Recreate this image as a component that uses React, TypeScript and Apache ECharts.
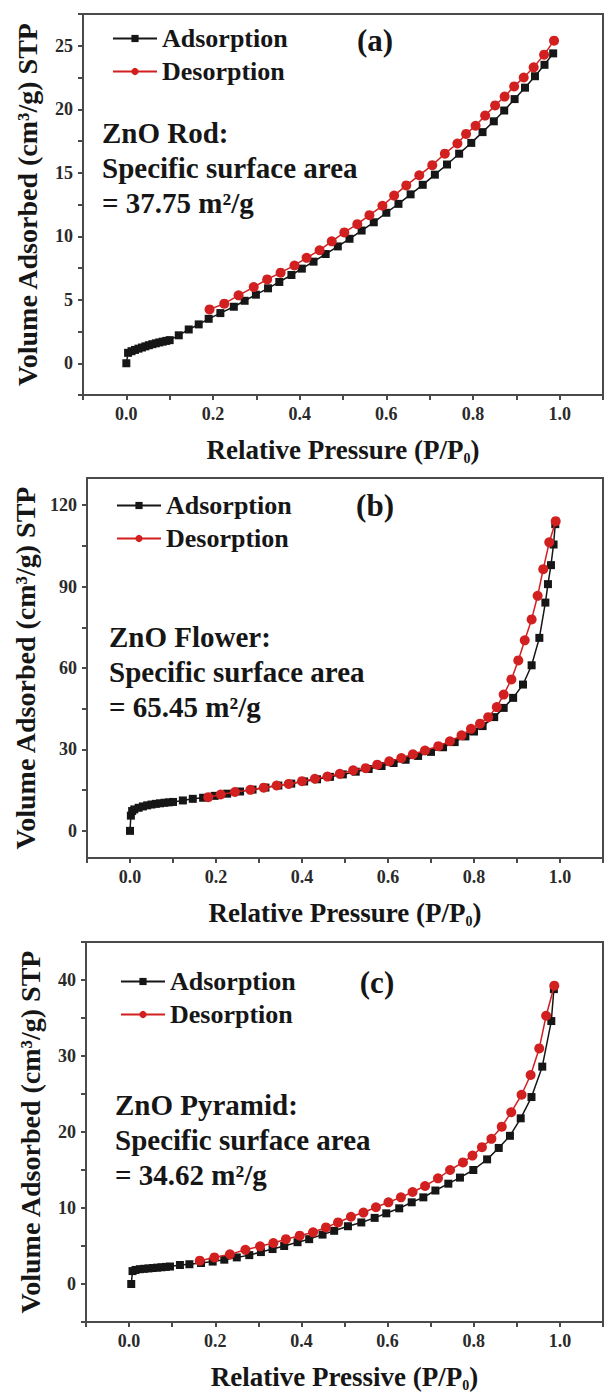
import React, { useEffect, useRef } from "react";
import * as echarts from "echarts";

// ZnO Rod isotherm, [P/P0, volume]
const rodAdsorption: number[][] = [
  [0, 0], [0.004, 0.82], [0.012, 0.95], [0.02, 1.05], [0.028, 1.15], [0.036, 1.24], [0.044, 1.33],
  [0.052, 1.42], [0.06, 1.5], [0.068, 1.57], [0.076, 1.64], [0.084, 1.7], [0.092, 1.76], [0.1, 1.82],
  [0.121, 2.2], [0.144, 2.66], [0.167, 3.06], [0.19, 3.5], [0.217, 3.95], [0.248, 4.45], [0.273, 4.92],
  [0.299, 5.4], [0.327, 5.9], [0.353, 6.4], [0.381, 6.95], [0.405, 7.45], [0.432, 8.0], [0.46, 8.6],
  [0.488, 9.2], [0.515, 9.8], [0.543, 10.45], [0.571, 11.1], [0.6, 11.85], [0.628, 12.55], [0.656, 13.3],
  [0.684, 14.05], [0.712, 14.85], [0.74, 15.65], [0.768, 16.5], [0.796, 17.35], [0.822, 18.2], [0.848, 19.05],
  [0.872, 19.9], [0.896, 20.8], [0.92, 21.7], [0.943, 22.6], [0.965, 23.5], [0.985, 24.4],
];
const rodDesorption: number[][] = [
  [0.192, 4.24], [0.226, 4.69], [0.259, 5.35], [0.294, 6.0], [0.325, 6.6], [0.356, 7.13], [0.388, 7.7],
  [0.416, 8.3], [0.446, 8.9], [0.474, 9.6], [0.503, 10.3], [0.533, 10.95], [0.561, 11.66], [0.591, 12.4],
  [0.618, 13.2], [0.646, 14.0], [0.676, 14.8], [0.706, 15.6], [0.735, 16.5], [0.764, 17.3], [0.784, 18.06],
  [0.806, 18.7], [0.828, 19.5], [0.851, 20.3], [0.873, 21.0], [0.895, 21.8], [0.917, 22.5], [0.94, 23.3],
  [0.964, 24.3], [0.987, 25.4],
];

// ZnO Flower isotherm
const flowerAdsorption: number[][] = [
  [0, 0], [0.002, 5.6], [0.005, 7.3], [0.01, 7.9], [0.02, 8.5], [0.03, 9.0], [0.04, 9.4], [0.05, 9.7],
  [0.06, 9.95], [0.07, 10.15], [0.08, 10.35], [0.09, 10.5], [0.1, 10.65], [0.123, 11.2], [0.146, 11.8],
  [0.17, 12.2], [0.197, 12.9], [0.226, 13.7], [0.256, 14.5], [0.285, 15.2], [0.315, 15.95], [0.345, 16.7],
  [0.375, 17.4], [0.405, 18.2], [0.435, 19.0], [0.465, 19.9], [0.495, 20.8], [0.525, 21.8], [0.555, 22.8],
  [0.585, 23.9], [0.613, 25.0], [0.641, 26.2], [0.67, 27.6], [0.7, 29.1], [0.728, 30.8], [0.755, 32.7],
  [0.78, 34.8], [0.8, 36.6], [0.82, 38.6], [0.847, 41.9], [0.869, 45.3], [0.891, 49.0], [0.914, 53.9],
  [0.934, 61.0], [0.952, 71.1], [0.966, 84.1], [0.972, 90.9], [0.979, 97.9], [0.985, 105.5], [0.989, 113.0],
];
const flowerDesorption: number[][] = [
  [0.182, 12.4], [0.211, 13.4], [0.244, 14.3], [0.28, 15.1], [0.311, 15.9], [0.341, 16.7], [0.369, 17.3],
  [0.4, 18.3], [0.43, 19.2], [0.459, 20.0], [0.488, 21.0], [0.519, 22.3], [0.548, 23.1], [0.575, 24.4],
  [0.603, 25.6], [0.631, 26.8], [0.658, 28.2], [0.686, 29.6], [0.717, 31.2], [0.744, 33.0], [0.771, 35.2],
  [0.793, 37.6], [0.814, 39.5], [0.833, 41.9], [0.853, 45.6], [0.869, 50.2], [0.887, 55.8], [0.903, 62.8],
  [0.918, 70.2], [0.934, 77.9], [0.948, 86.6], [0.961, 96.4], [0.975, 106.3], [0.99, 114.1],
];

// ZnO Pyramid isotherm
const pyramidAdsorption: number[][] = [
  [0.005, 0], [0.008, 1.7], [0.015, 1.85], [0.025, 1.95], [0.035, 2.0], [0.045, 2.05], [0.055, 2.1],
  [0.065, 2.15], [0.075, 2.2], [0.085, 2.25], [0.095, 2.3], [0.118, 2.5], [0.14, 2.6], [0.167, 2.76],
  [0.194, 2.95], [0.221, 3.2], [0.25, 3.5], [0.279, 3.8], [0.306, 4.2], [0.333, 4.6], [0.36, 5.0],
  [0.391, 5.5], [0.418, 5.9], [0.449, 6.5], [0.476, 7.0], [0.508, 7.6], [0.539, 8.1], [0.57, 8.7],
  [0.597, 9.3], [0.627, 9.96], [0.656, 10.75], [0.683, 11.4], [0.711, 12.3], [0.741, 13.2], [0.768, 14.0],
  [0.799, 15.0], [0.831, 16.4], [0.858, 17.9], [0.884, 19.5], [0.909, 21.8], [0.934, 24.6], [0.959, 28.6],
  [0.98, 34.6], [0.986, 38.8],
];
const pyramidDesorption: number[][] = [
  [0.164, 3.07], [0.198, 3.5], [0.234, 3.9], [0.27, 4.5], [0.304, 4.96], [0.335, 5.4], [0.364, 5.9],
  [0.396, 6.36], [0.427, 6.8], [0.457, 7.45], [0.485, 8.1], [0.515, 8.85], [0.544, 9.4], [0.573, 10.1],
  [0.602, 10.75], [0.631, 11.4], [0.658, 12.1], [0.687, 12.9], [0.717, 13.9], [0.745, 15.0], [0.775, 16.0],
  [0.797, 16.9], [0.819, 18.0], [0.841, 19.1], [0.865, 20.7], [0.887, 22.6], [0.911, 24.9], [0.932, 27.5],
  [0.952, 31.0], [0.968, 35.3], [0.987, 39.25],
];

const seriesNames = ["Adsorption", "Desorption"];
const panelLabels = ["(a)", "(b)", "(c)"];
const sampleNotes = [
  "ZnO Rod:\nSpecific surface area\n= 37.75 m\u00b2/g",
  "ZnO Flower:\nSpecific surface area\n= 65.45 m\u00b2/g",
  "ZnO Pyramid:\nSpecific surface area\n= 34.62 m\u00b2/g",
];
const xTitles = ["Relative Pressure (P/P{sub|0})", "Relative Pressure (P/P{sub|0})", "Relative Pressive (P/P{sub|0})"];
const yTitle = "Volume Adsorbed (cm\u00b3/g) STP";

const FONT = '"Liberation Serif", "Times New Roman", serif';
const AX = "#4a4a4a";
const INK = "#161616";
const RED = "#d21f1f";

const grids = [
  { left: 83, top: 14, width: 522, height: 381 },
  { left: 87, top: 478, width: 519, height: 380 },
  { left: 86, top: 942, width: 520, height: 380 },
];
const yRanges = [
  { min: -2.5, max: 27.5 },
  { min: -10, max: 130 },
  { min: -5, max: 45 },
];
const legendPos = [
  { left: 112, top: 24 },
  { left: 116, top: 491 },
  { left: 120, top: 967 },
];
const labelPos = [
  { x: 375, y: 40 },
  { x: 375, y: 505 },
  { x: 377, y: 982 },
];
const notePos = [
  { x: 102, y: 115 },
  { x: 109, y: 619 },
  { x: 115, y: 1087 },
];

export default function App() {
  const ref = useRef<HTMLDivElement>(null);

  useEffect(() => {
    document.body.style.margin = "0";
    if (!ref.current) return;
    const chart = echarts.init(ref.current, undefined, { renderer: "svg" });

    const boldText = (size: number) => ({
      fontFamily: FONT,
      fontWeight: "bold" as const,
      fontSize: size,
      color: INK,
    });

    const xAxes = grids.map((_, i) => ({
      type: "value",
      gridIndex: i,
      min: -0.1,
      max: 1.1,
      interval: 0.1,
      axisLine: { show: true, onZero: false, lineStyle: { color: AX, width: 2 } },
      axisTick: { show: true, inside: false, length: 5, lineStyle: { color: AX, width: 2 } },
      axisLabel: {
        ...boldText(18),
        color: "#2a2a2a",
        margin: 10,
        formatter: (v: number) => {
          const k = Math.round(v * 10);
          return k >= 0 && k <= 10 && k % 2 === 0 ? (k / 10).toFixed(1) : "";
        },
      },
      splitLine: { show: false },
      name: xTitles[i],
      nameLocation: "middle",
      nameGap: 39,
      nameTextStyle: {
        ...boldText(27),
        rich: {
          sub: { ...boldText(14), padding: [17, 0, 0, 0] },
        },
      },
    }));

    const yAxes = grids.map((_, i) => {
      const base: any = {
        type: "value",
        gridIndex: i,
        min: yRanges[i].min,
        max: yRanges[i].max,
        axisLine: { show: true, onZero: false, lineStyle: { color: AX, width: 2 } },
        axisTick: { show: true, inside: false, length: 5, lineStyle: { color: AX, width: 2 } },
        axisLabel: { ...boldText(18), color: "#2a2a2a", margin: 10 },
        splitLine: { show: false },
        name: yTitle,
        nameLocation: "middle",
        nameRotate: 90,
        nameGap: 42,
        nameTextStyle: boldText(28),
      };
      if (i === 0) {
        base.interval = 2.5;
        base.axisLabel.formatter = (v: number) => (Math.abs(v % 5) < 1e-6 ? String(v) : "");
      } else if (i === 1) {
        base.axisTick.customValues = [0, 15, 30, 45, 60, 75, 90, 105, 120];
        base.axisLabel.customValues = [0, 30, 60, 90, 120];
      } else {
        base.interval = 5;
        base.axisLabel.formatter = (v: number) => (Math.abs(v % 10) < 1e-6 ? String(v) : "");
      }
      return base;
    });

    const panels = [
      [rodAdsorption, rodDesorption],
      [flowerAdsorption, flowerDesorption],
      [pyramidAdsorption, pyramidDesorption],
    ];

    const series: any[] = [];
    panels.forEach(([ads, des], i) => {
      series.push({
        type: "line",
        name: seriesNames[0],
        xAxisIndex: i,
        yAxisIndex: i,
        data: ads,
        symbol: "rect",
        symbolSize: 8,
        showSymbol: true,
        showAllSymbol: true,
        lineStyle: { color: INK, width: 1.5 },
        itemStyle: { color: INK },
        z: 2,
      });
      series.push({
        type: "line",
        name: seriesNames[1],
        xAxisIndex: i,
        yAxisIndex: i,
        data: des,
        symbol: "circle",
        symbolSize: 10,
        showSymbol: true,
        showAllSymbol: true,
        lineStyle: { color: RED, width: 1.5 },
        itemStyle: { color: RED },
        z: 3,
      });
    });

    const legends = legendPos.map((p) => ({
      left: p.left,
      top: p.top,
      orient: "vertical",
      padding: 0,
      itemWidth: 44,
      itemHeight: 9,
      itemGap: 4,
      selectedMode: false,
      data: seriesNames,
      textStyle: { ...boldText(26), lineHeight: 29 },
    }));

    const graphics: any[] = [];
    labelPos.forEach((p, i) => {
      graphics.push({
        type: "text",
        x: p.x,
        y: p.y,
        style: {
          text: panelLabels[i],
          font: `bold 31px ${FONT}`,
          fill: INK,
          align: "center",
          verticalAlign: "middle",
        },
      });
    });
    notePos.forEach((p, i) => {
      graphics.push({
        type: "text",
        x: p.x,
        y: p.y,
        style: {
          text: sampleNotes[i],
          font: `bold 29px ${FONT}`,
          lineHeight: 35,
          fill: INK,
          align: "left",
          verticalAlign: "top",
        },
      });
    });

    chart.setOption({
      animation: false,
      backgroundColor: "#ffffff",
      grid: grids.map((g) => ({ ...g, show: true, borderColor: AX, borderWidth: 2, containLabel: false })),
      xAxis: xAxes,
      yAxis: yAxes,
      legend: legends,
      series,
      graphic: graphics,
    });

    return () => chart.dispose();
  }, []);

  return <div ref={ref} style={{ width: 606, height: 1397, position: "absolute", left: 0, top: 0 }} />;
}
